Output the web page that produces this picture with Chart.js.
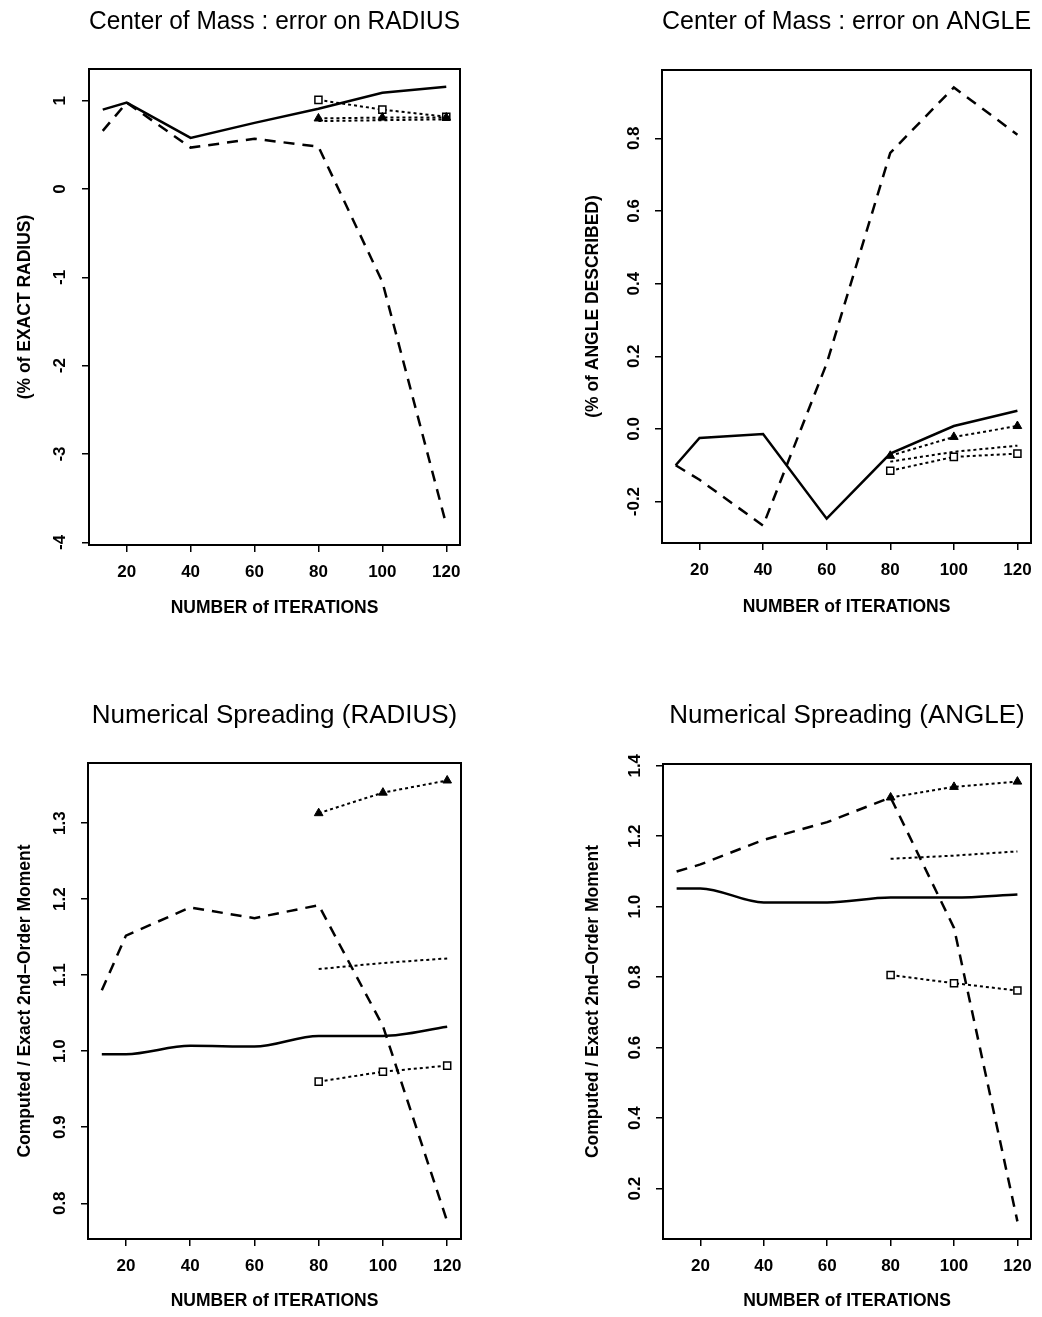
<!DOCTYPE html>
<html>
<head>
<meta charset="utf-8">
<script src="https://cdn.jsdelivr.net/npm/chart.js@4.4.1/dist/chart.umd.min.js"></script>
<style>
  body { margin: 0; background: #fff; overflow: hidden; }
  canvas { position: absolute; }
</style>
</head>
<body>
<canvas id="c1" width="521" height="658" style="left:0;top:0"></canvas>
<canvas id="c2" width="521" height="658" style="left:521px;top:0"></canvas>
<canvas id="c3" width="521" height="659" style="left:0;top:658px"></canvas>
<canvas id="c4" width="521" height="659" style="left:521px;top:658px"></canvas>
<script>
// x values (number of iterations)
const iters = [12.5, 20, 40, 60, 80, 100, 120];
const itersLate = [80, 100, 120];
const xTicks = [20, 40, 60, 80, 100, 120];

// Center of Mass : error on RADIUS
const radSolid  = [0.90, 0.98, 0.58, 0.75, 0.91, 1.09, 1.16];
const radDashed = [0.66, 0.98, 0.47, 0.57, 0.48, -1.05, -3.80];
const radTri    = [0.80, 0.81, 0.81];
const radSquare = [1.01, 0.90, 0.82];
const radDotted = [0.77, 0.78, 0.79];
const radTicks  = [-4, -3, -2, -1, 0, 1];

// Center of Mass : error on ANGLE
const angSolid  = [-0.10, -0.025, -0.014, -0.247, -0.068, 0.008, 0.05];
const angDashed = [-0.10, -0.14, -0.266, 0.18, 0.76, 0.94, 0.81];
const angTri    = [-0.074, -0.022, 0.008];
const angSquare = [-0.115, -0.077, -0.068];
const angDotted = [-0.09, -0.063, -0.046];
const angTicks  = [-0.2, 0.0, 0.2, 0.4, 0.6, 0.8];

// Numerical Spreading (RADIUS)
const sprRadSolid  = [0.996, 0.996, 1.007, 1.006, 1.02, 1.02, 1.032];
const sprRadDashed = [1.08, 1.152, 1.189, 1.175, 1.192, 1.033, 0.776];
const sprRadTri    = [1.313, 1.34, 1.356];
const sprRadSquare = [0.96, 0.973, 0.981];
const sprRadDotted = [1.108, 1.116, 1.122];
const sprRadTicks  = [0.8, 0.9, 1.0, 1.1, 1.2, 1.3];

// Numerical Spreading (ANGLE)
const sprAngSolid  = [1.052, 1.052, 1.012, 1.012, 1.026, 1.026, 1.035];
const sprAngDashed = [1.10, 1.12, 1.19, 1.24, 1.31, 0.94, 0.107];
const sprAngTri    = [1.31, 1.34, 1.355];
const sprAngSquare = [0.806, 0.783, 0.762];
const sprAngDotted = [1.136, 1.145, 1.157];
const sprAngTicks  = [0.2, 0.4, 0.6, 0.8, 1.0, 1.2, 1.4];

const FONT = "'Liberation Sans', Arial, sans-serif";
const AXIS_TITLE_SIZE = 17.5;
const HALF_LH = AXIS_TITLE_SIZE * 1.2 / 2;
const pts = (xs, ys) => xs.map((x, i) => ({ x: x, y: ys[i] }));

function makeDatasets(solid, dashed, tri, square, dotted, smooth) {
  return [
    { data: pts(iters, solid), borderColor: '#000', borderWidth: 2.5, pointRadius: 0,
      cubicInterpolationMode: smooth ? 'monotone' : 'default' },
    { data: pts(iters, dashed), borderColor: '#000', borderWidth: 2.5, borderDash: [11, 8], pointRadius: 0 },
    { data: pts(itersLate, tri), borderColor: '#000', borderWidth: 2, borderDash: [3, 3],
      pointStyle: 'triangle', pointRadius: 5, pointBackgroundColor: '#000', pointBorderWidth: 1 },
    { data: pts(itersLate, square), borderColor: '#000', borderWidth: 2, borderDash: [3, 3],
      pointStyle: 'rect', pointRadius: 5, pointBackgroundColor: '#fff', pointBorderWidth: 1.5 },
    { data: pts(itersLate, dotted), borderColor: '#000', borderWidth: 2, borderDash: [3, 3], pointRadius: 0 }
  ];
}

function makeChart(id, p) {
  const W = p.W, H = p.H;
  new Chart(document.getElementById(id), {
    type: 'line',
    data: { datasets: p.datasets },
    options: {
      responsive: false,
      animation: false,
      devicePixelRatio: 1,
      layout: { padding: { left: 0, right: W - p.box.r, top: 0, bottom: 0 } },
      plugins: {
        legend: { display: false },
        tooltip: { enabled: false },
        title: {
          display: true, text: p.title, color: '#000', fullSize: false,
          font: { family: FONT, size: 26, weight: 'normal', lineHeight: 1.2 },
          padding: { top: p.titleY - 15.6, bottom: p.box.t - p.titleY - 15.6 }
        }
      },
      scales: {
        x: {
          type: 'linear', position: 'bottom', min: 8.2, max: 124.3,
          afterBuildTicks: s => { s.ticks = xTicks.map(v => ({ value: v })); },
          afterFit: s => { s.height = H - p.box.b; },
          grid: { drawOnChartArea: false, drawTicks: true, tickLength: 7, color: '#000', lineWidth: 1.5 },
          border: { display: true, color: '#000', width: 2 },
          ticks: { color: '#000', padding: 10, maxRotation: 0, font: { family: FONT, size: 17, weight: 'bold' } },
          title: { display: true, text: 'NUMBER of ITERATIONS', color: '#000',
                   font: { family: FONT, size: AXIS_TITLE_SIZE, weight: 'bold', lineHeight: 1.2 },
                   padding: { top: 0, bottom: H - p.xTitleY - HALF_LH } }
        },
        y: {
          type: 'linear', position: 'left', min: p.yMin, max: p.yMax,
          afterBuildTicks: s => { s.ticks = p.yTicks.map(v => ({ value: v })); },
          afterFit: s => { s.width = p.box.l; },
          grid: { drawOnChartArea: false, drawTicks: true, tickLength: 7, color: '#000', lineWidth: 1.5 },
          border: { display: true, color: '#000', width: 2 },
          ticks: { color: '#000', padding: p.yTickPad, minRotation: 90, maxRotation: 90, crossAlign: 'center',
                   font: { family: FONT, size: 17, weight: 'bold' },
                   callback: v => v.toFixed(p.dec) },
          title: { display: true, text: p.yLabel, color: '#000',
                   font: { family: FONT, size: AXIS_TITLE_SIZE, weight: 'bold', lineHeight: 1.2 },
                   padding: { top: p.yTitleX - HALF_LH, bottom: 0 } }
        },
        x2: {
          type: 'linear', position: 'top', display: true,
          afterFit: s => { s.height = 0; },
          grid: { drawOnChartArea: false, drawTicks: false },
          border: { display: true, color: '#000', width: 2 },
          ticks: { display: false }
        },
        y2: {
          type: 'linear', position: 'right', display: true,
          afterFit: s => { s.width = 0; },
          grid: { drawOnChartArea: false, drawTicks: false },
          border: { display: true, color: '#000', width: 2 },
          ticks: { display: false }
        }
      }
    }
  });
}

makeChart('c1', {
  W: 521, H: 658, box: { l: 89, r: 460, t: 69, b: 545 }, titleY: 22, xTitleY: 608, yTitleX: 25,
  title: 'Center of Mass : error on RADIUS', yLabel: '(% of EXACT RADIUS)',
  yMin: -4.03, yMax: 1.36, yTicks: radTicks, dec: 0, yTickPad: 14,
  datasets: makeDatasets(radSolid, radDashed, radTri, radSquare, radDotted, false)
});
makeChart('c2', {
  W: 521, H: 658, box: { l: 141, r: 511, t: 70, b: 543 }, titleY: 22, xTitleY: 607, yTitleX: 72,
  title: 'Center of Mass : error on ANGLE', yLabel: '(% of ANGLE DESCRIBED)',
  yMin: -0.314, yMax: 0.988, yTicks: angTicks, dec: 1, yTickPad: 6,
  datasets: makeDatasets(angSolid, angDashed, angTri, angSquare, angDotted, false)
});
makeChart('c3', {
  W: 521, H: 659, box: { l: 88, r: 461, t: 105, b: 581 }, titleY: 58, xTitleY: 643, yTitleX: 25,
  title: 'Numerical Spreading (RADIUS)', yLabel: 'Computed / Exact 2nd\u2013Order Moment',
  yMin: 0.753, yMax: 1.379, yTicks: sprRadTicks, dec: 1, yTickPad: 9,
  datasets: makeDatasets(sprRadSolid, sprRadDashed, sprRadTri, sprRadSquare, sprRadDotted, true)
});
makeChart('c4', {
  W: 521, H: 659, box: { l: 142, r: 511, t: 106, b: 581 }, titleY: 58, xTitleY: 643, yTitleX: 72,
  title: 'Numerical Spreading (ANGLE)', yLabel: 'Computed / Exact 2nd\u2013Order Moment',
  yMin: 0.057, yMax: 1.405, yTicks: sprAngTicks, dec: 1, yTickPad: 9,
  datasets: makeDatasets(sprAngSolid, sprAngDashed, sprAngTri, sprAngSquare, sprAngDotted, true)
});
</script>
</body>
</html>
